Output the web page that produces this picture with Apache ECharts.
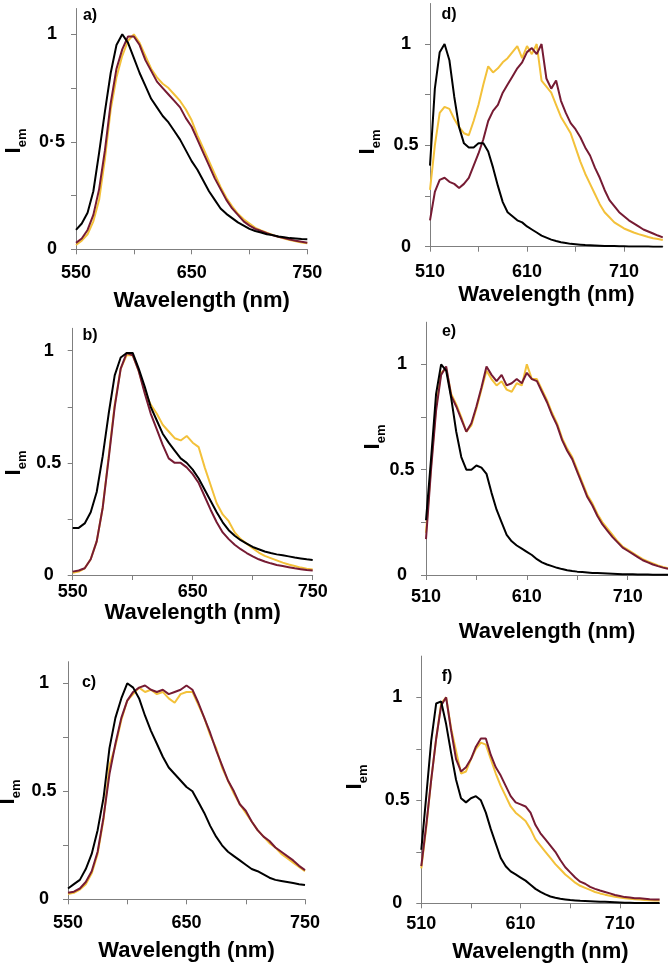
<!DOCTYPE html>
<html><head><meta charset="utf-8">
<script src="https://cdn.jsdelivr.net/npm/echarts@6/dist/echarts.min.js"></script>
<style>html,body{margin:0;padding:0;background:#fff}#c{width:668px;height:968px}</style>
</head><body><div id="c"></div>
<script>
// wavelengths (nm)
const wl550 = [550,555,560,565,570,575,580,585,590,595,600,605,610,615,620,625,630,635,640,645,650,655,660,665,670,675,680,685,690,695,700,705,710,715,720,725,730,735,740,745,750];
const wl510 = [510,515,520,525,530,535,540,545,550,555,560,565,570,575,580,585,590,595,600,605,610,615,620,625,630,635,640,645,650,655,660,665,670,675,680,685,690,695,700,705,710,715,720,725,730,735,740,745,750];

// panel a
const aBlack  = [0.09,0.12,0.17,0.27,0.45,0.64,0.82,0.95,1.00,0.96,0.89,0.82,0.76,0.70,0.66,0.62,0.59,0.55,0.51,0.46,0.41,0.37,0.32,0.27,0.23,0.19,0.165,0.145,0.125,0.11,0.095,0.085,0.078,0.07,0.066,0.06,0.056,0.052,0.05,0.048,0.047];
const aMaroon = [0.03,0.05,0.09,0.16,0.28,0.46,0.68,0.84,0.93,0.99,0.99,0.95,0.88,0.83,0.78,0.75,0.72,0.69,0.66,0.61,0.57,0.51,0.45,0.39,0.33,0.28,0.23,0.19,0.16,0.13,0.11,0.095,0.085,0.075,0.065,0.058,0.052,0.045,0.04,0.035,0.03];
const aYellow = [0.02,0.04,0.07,0.13,0.23,0.42,0.65,0.80,0.90,0.97,1.00,0.96,0.90,0.84,0.80,0.77,0.75,0.72,0.69,0.65,0.60,0.53,0.47,0.41,0.35,0.29,0.24,0.20,0.165,0.14,0.12,0.10,0.088,0.077,0.067,0.058,0.05,0.043,0.037,0.032,0.028];
// panel b
const bBlack  = [0.21,0.21,0.23,0.28,0.37,0.53,0.72,0.89,0.97,0.99,0.99,0.92,0.84,0.75,0.69,0.63,0.59,0.555,0.52,0.50,0.47,0.43,0.38,0.33,0.28,0.235,0.20,0.175,0.155,0.14,0.125,0.115,0.105,0.098,0.092,0.088,0.083,0.078,0.074,0.07,0.067];
const bMaroon = [0.015,0.02,0.03,0.07,0.15,0.30,0.52,0.75,0.92,0.99,0.98,0.91,0.81,0.72,0.65,0.58,0.52,0.50,0.50,0.48,0.45,0.41,0.35,0.29,0.235,0.19,0.16,0.135,0.115,0.098,0.083,0.07,0.06,0.052,0.045,0.04,0.035,0.03,0.026,0.022,0.02];
const bYellow = [0.01,0.015,0.03,0.07,0.15,0.30,0.53,0.76,0.92,0.98,0.98,0.91,0.82,0.76,0.72,0.67,0.64,0.61,0.60,0.62,0.59,0.57,0.48,0.40,0.32,0.27,0.24,0.19,0.16,0.14,0.12,0.10,0.085,0.075,0.065,0.055,0.047,0.04,0.033,0.028,0.025];
// panel c
const cBlack  = [0.05,0.07,0.09,0.14,0.21,0.32,0.47,0.70,0.84,0.93,1.00,0.98,0.93,0.85,0.78,0.72,0.66,0.61,0.58,0.55,0.52,0.50,0.45,0.40,0.34,0.29,0.25,0.22,0.20,0.18,0.16,0.14,0.13,0.115,0.10,0.09,0.085,0.08,0.075,0.07,0.066];
const cMaroon = [0.03,0.035,0.05,0.08,0.13,0.22,0.38,0.58,0.72,0.84,0.92,0.96,0.98,0.99,0.97,0.96,0.97,0.95,0.96,0.97,0.99,0.97,0.91,0.84,0.77,0.69,0.62,0.55,0.50,0.44,0.41,0.36,0.32,0.29,0.27,0.24,0.22,0.20,0.18,0.155,0.135];
const cYellow = [0.025,0.03,0.045,0.07,0.12,0.21,0.37,0.62,0.71,0.83,0.92,0.95,0.98,0.96,0.97,0.95,0.96,0.93,0.91,0.95,0.96,0.96,0.90,0.84,0.76,0.70,0.61,0.55,0.49,0.44,0.40,0.36,0.32,0.29,0.26,0.24,0.21,0.19,0.17,0.15,0.13];
// panel d
const dBlack  = [0.40,0.78,0.96,1.00,0.92,0.74,0.59,0.51,0.49,0.49,0.51,0.51,0.47,0.39,0.30,0.22,0.17,0.15,0.13,0.12,0.10,0.085,0.07,0.055,0.045,0.035,0.028,0.022,0.018,0.014,0.012,0.01,0.008,0.007,0.006,0.005,0.004,0.003,0.003,0.002,0.002,0.001,0.001,0.001,0.001,0.001,0,0,0];
const dMaroon = [0.13,0.27,0.33,0.34,0.32,0.31,0.29,0.31,0.34,0.40,0.46,0.53,0.62,0.67,0.70,0.76,0.80,0.84,0.88,0.91,0.96,0.98,0.95,1.00,0.83,0.78,0.82,0.72,0.66,0.61,0.58,0.54,0.49,0.45,0.39,0.34,0.28,0.23,0.20,0.17,0.15,0.13,0.115,0.10,0.085,0.075,0.065,0.055,0.046];
const dYellow = [0.28,0.50,0.66,0.69,0.68,0.63,0.59,0.56,0.55,0.62,0.70,0.80,0.89,0.86,0.88,0.91,0.93,0.96,0.99,0.93,0.99,0.95,1.00,0.82,0.79,0.76,0.70,0.64,0.60,0.56,0.49,0.42,0.36,0.31,0.26,0.21,0.17,0.145,0.12,0.105,0.09,0.08,0.07,0.062,0.055,0.048,0.042,0.038,0.033];
// panel e
const eBlack  = [0.26,0.55,0.86,1.00,0.97,0.84,0.68,0.56,0.50,0.50,0.52,0.51,0.48,0.39,0.31,0.25,0.19,0.16,0.14,0.125,0.11,0.095,0.075,0.06,0.05,0.042,0.034,0.028,0.023,0.019,0.016,0.014,0.012,0.01,0.009,0.008,0.007,0.006,0.005,0.004,0.003,0.003,0.002,0.002,0.002,0.001,0.001,0.001,0.001];
const eMaroon = [0.17,0.50,0.78,0.95,0.99,0.85,0.80,0.74,0.68,0.72,0.80,0.89,0.99,0.95,0.92,0.95,0.90,0.91,0.93,0.91,0.96,0.93,0.92,0.87,0.82,0.76,0.71,0.64,0.59,0.55,0.49,0.43,0.37,0.33,0.28,0.24,0.21,0.18,0.155,0.13,0.115,0.10,0.085,0.07,0.06,0.05,0.042,0.035,0.03];
const eYellow = [0.20,0.52,0.80,0.96,0.98,0.86,0.81,0.75,0.68,0.71,0.79,0.88,0.97,0.93,0.90,0.92,0.88,0.87,0.91,0.90,1.00,0.93,0.93,0.88,0.83,0.77,0.72,0.65,0.60,0.56,0.50,0.44,0.38,0.34,0.29,0.25,0.22,0.19,0.16,0.135,0.12,0.105,0.09,0.075,0.065,0.055,0.045,0.038,0.032];
// panel f
const fBlack  = [0.26,0.52,0.79,0.97,0.98,0.87,0.73,0.60,0.51,0.49,0.51,0.52,0.50,0.44,0.36,0.29,0.22,0.18,0.155,0.14,0.125,0.11,0.09,0.07,0.055,0.043,0.033,0.027,0.022,0.019,0.016,0.014,0.012,0.011,0.01,0.009,0.008,0.007,0.006,0.005,0.004,0.003,0.003,0.002,0.002,0.002,0.001,0.001,0.001];
const fMaroon = [0.18,0.38,0.60,0.80,0.96,1.00,0.84,0.70,0.64,0.66,0.70,0.76,0.80,0.80,0.72,0.66,0.62,0.57,0.52,0.49,0.48,0.47,0.44,0.38,0.34,0.31,0.28,0.25,0.21,0.175,0.15,0.125,0.105,0.095,0.08,0.07,0.062,0.055,0.048,0.04,0.035,0.03,0.028,0.025,0.024,0.022,0.02,0.019,0.018];
const fYellow = [0.17,0.37,0.60,0.80,0.97,1.00,0.85,0.74,0.63,0.64,0.70,0.75,0.78,0.77,0.70,0.63,0.57,0.52,0.47,0.44,0.42,0.40,0.36,0.31,0.28,0.25,0.22,0.19,0.165,0.14,0.12,0.10,0.085,0.075,0.065,0.055,0.048,0.042,0.037,0.032,0.028,0.025,0.022,0.02,0.018,0.016,0.015,0.014,0.013];

// ticks and labels
const xTicks550 = [550,600,650,700,750];
const xLabels550 = [550,650,750];
const xTicks510 = [510,560,610,660,710];
const xLabels510 = [510,610,710];
const yTicks = [0,0.25,0.5,0.75,1];
const yLabelVals = [0,0.5,1];
const yLabelTextDot = ['0','0·5','1'];
const yLabelText = ['0','0.5','1'];
const panelLetters = ['a)','b)','c)','d)','e)','f)'];
const xName = 'Wavelength (nm)';

const COL_Y = '#F3C13A', COL_M = '#761B33', COL_K = '#000000';
const FONT = "'Liberation Sans', Arial, Helvetica, sans-serif";
const AX = '#7f7f7f';

const panels = [
  {wl: wl550, d:[aYellow,aMaroon,aBlack], g:{left:76, top:8.5, width:231.3, height:240.8}, yMax:1.12, xMin:550, xMax:750, xt:xTicks550, xl:xLabels550, yl:yLabelTextDot, lm:15, ng:41, npad:[0,0,0,20], lab:[90,16], ylab:[16,141]},
  {wl: wl550, d:[bYellow,bMaroon,bBlack], g:{left:72.7, top:328.3, width:240, height:246.7}, yMax:1.1, xMin:550, xMax:750, xt:xTicks550, xl:xLabels550, yl:yLabelText, lm:8, ng:27, npad:0, lab:[90,336], ylab:[16,463]},
  {wl: wl550, d:[cYellow,cMaroon,cBlack], g:{left:68, top:661.7, width:237, height:237.6}, yMax:1.1, xMin:550, xMax:750, xt:xTicks550, xl:xLabels550, yl:yLabelText, lm:15, ng:41, npad:0, lab:[89,683], ylab:[10,792]},
  {wl: wl510, d:[dYellow,dMaroon,dBlack], g:{left:430, top:3.5, width:232.8, height:243.2}, yMax:1.2, xMin:510, xMax:750, xt:xTicks510, xl:xLabels510, yl:yLabelText, lm:16, ng:37, npad:0, lab:[449,15], ylab:[370,142]},
  {wl: wl510, d:[eYellow,eMaroon,eBlack], g:{left:426, top:322.2, width:242.4, height:252.8}, yMax:1.2, xMin:510, xMax:750, xt:xTicks510, xl:xLabels510, yl:yLabelText, lm:13, ng:46, npad:0, lab:[449,332], ylab:[375,437]},
  {wl: wl510, d:[fYellow,fMaroon,fBlack], g:{left:421.3, top:656.1, width:238.3, height:247.2}, yMax:1.2, xMin:510, xMax:750, xt:xTicks510, xl:xLabels510, yl:yLabelText, lm:12, ng:38, npad:0, lab:[447,677], ylab:[357,777]}
];

const grid = [], xAxis = [], yAxis = [], series = [], graphic = [];
const colors = [COL_Y, COL_M, COL_K];
panels.forEach((p, i) => {
  grid.push(Object.assign({containLabel:false}, p.g));
  xAxis.push({
    type:'value', gridIndex:i, min:p.xMin, max:p.xMax,
    axisLine:{show:true, lineStyle:{color:AX, width:1}},
    axisTick:{show:true, length:5, inside:false, customValues:p.xt, lineStyle:{color:AX, width:1}},
    axisLabel:{customValues:p.xl, margin:p.lm, fontSize:18, fontWeight:'bold', color:'#000', fontFamily:FONT},
    splitLine:{show:false},
    name:xName, nameLocation:'middle', nameGap:p.ng,
    nameTextStyle:{fontSize:22, fontWeight:'bold', color:'#000', fontFamily:FONT, verticalAlign:'top', padding:p.npad}
  });
  yAxis.push({
    type:'value', gridIndex:i, min:0, max:p.yMax,
    axisLine:{show:true, lineStyle:{color:AX, width:1}},
    axisTick:{show:true, length:5, inside:false, customValues:yTicks, lineStyle:{color:AX, width:1}},
    axisLabel:{customValues:yLabelVals, margin:24, align:'center', fontSize:18, fontWeight:'bold', color:'#000', fontFamily:FONT,
      formatter: (v) => p.yl[yLabelVals.indexOf(v)] ?? ''},
    splitLine:{show:false}
  });
  p.d.forEach((arr, k) => {
    series.push({
      type:'line', xAxisIndex:i, yAxisIndex:i, showSymbol:false, symbol:'none', silent:true,
      data: p.wl.map((w, j) => [w, arr[j]]),
      lineStyle:{color:colors[k], width:2}, itemStyle:{color:colors[k]}, z: 2 + k
    });
  });
  graphic.push({type:'text', x:p.lab[0], y:p.lab[1], silent:true,
    style:{text:panelLetters[i], fill:'#000', font:"bold 16px " + FONT, align:'center', verticalAlign:'middle'}});
  graphic.push({type:'text', x:p.ylab[0], y:p.ylab[1], rotation:Math.PI/2, silent:true,
    style:{text:'{i|I}{s|em}', align:'center', verticalAlign:'middle', fill:'#000',
      rich:{i:{fontSize:22, fontWeight:'bold', fontFamily:FONT, lineHeight:26, verticalAlign:'top', fill:'#000'},
            s:{fontSize:13, fontWeight:'bold', fontFamily:FONT, verticalAlign:'bottom', fill:'#000'}}}});
});

const chart = echarts.init(document.getElementById('c'), null, {renderer:'canvas'});
chart.setOption({animation:false, backgroundColor:'#fff', grid, xAxis, yAxis, series, graphic});
</script>
</body></html>
